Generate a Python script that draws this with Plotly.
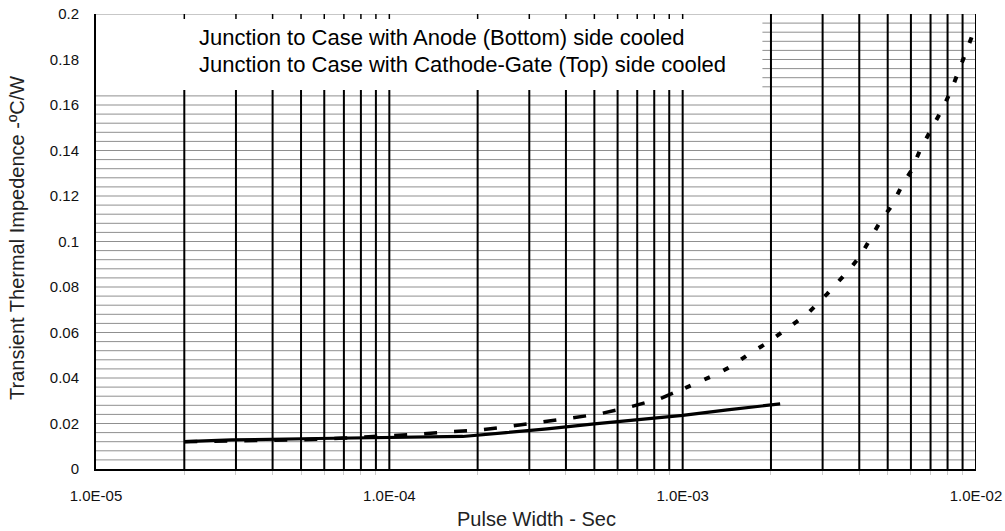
import math
import plotly.graph_objects as go

# ---------------- data ----------------
anode_x = [2.0e-5, 2.9e-5, 5.7e-5, 1.0e-4, 1.34e-4, 1.78e-4, 2.5e-4, 3.45e-4,
           5.0e-4, 8.4e-4, 1.0e-3, 1.42e-3, 2.0e-3, 2.15e-3]
anode_y = [0.0120, 0.0128, 0.0134, 0.0137, 0.0138, 0.0143, 0.0160, 0.0176,
           0.0198, 0.0226, 0.0236, 0.0260, 0.0283, 0.0286]

cathode_x = [2.0e-5, 5.0e-5, 7.0e-5, 1.0e-4, 1.3e-4, 1.6e-4, 2.0e-4, 2.5e-4,
             3.0e-4, 4.0e-4, 5.1e-4, 6.5e-4, 8.4e-4, 1.02e-3, 1.12e-3, 1.32e-3,
             1.49e-3, 1.70e-3, 1.94e-3, 2.29e-3, 2.65e-3, 3.11e-3, 3.44e-3,
             3.72e-3, 4.03e-3, 4.32e-3, 4.71e-3, 5.18e-3, 5.56e-3, 6.01e-3,
             6.44e-3, 7.08e-3, 7.72e-3, 8.29e-3, 8.83e-3, 9.1e-3, 9.78e-3]
cathode_y = [0.0120, 0.0128, 0.0136, 0.0145, 0.0154, 0.0163, 0.0171, 0.0185,
             0.0200, 0.0220, 0.0240, 0.0270, 0.0310, 0.0356, 0.0380, 0.0420,
             0.0457, 0.0510, 0.0554, 0.0620, 0.0680, 0.0770, 0.0830,
             0.0880, 0.0936, 0.1000, 0.1086, 0.1160, 0.1240, 0.1310,
             0.1400, 0.1500, 0.1587, 0.1675, 0.1760, 0.1810, 0.1916]

series_names = ["Junction to Case with Anode (Bottom) side cooled",
                "Junction to Case with Cathode-Gate (Top) side cooled"]

x_tick_vals = [1e-5, 1e-4, 1e-3, 1e-2]
x_tick_text = ["1.0E-05", "1.0E-04", "1.0E-03", "1.0E-02"]
y_tick_vals = [0, 0.02, 0.04, 0.06, 0.08, 0.1, 0.12, 0.14, 0.16, 0.18, 0.2]
y_tick_text = ["0", "0.02", "0.04", "0.06", "0.08", "0.1", "0.12", "0.14", "0.16", "0.18", "0.2"]
y_grid_step = 0.004

decades = [1e-5, 1e-4, 1e-3]
multipliers = [1, 2, 3, 4, 5, 6, 7, 8, 9]

# ---------------- layout constants ----------------
FONT = "Liberation Sans, Arial, sans-serif"
W, H = 1005, 531
ML, MR, MT, MB = 96, 29, 14, 62
PW, PH = W - ML - MR, H - MT - MB
XMIN, XMAX = -5, -2
YMAX = 0.2
BOX_RIGHT = 1.87e-3      # caption box right edge (data)
BOX_BOTTOM = 0.1666      # caption box bottom (data)

grid_x = [m * d for d in decades for m in multipliers] + [1e-2]
grid_x = [v for v in grid_x if v > 1.5e-5]
n_h = int(round(YMAX / y_grid_step))
grid_y = [round(k * y_grid_step, 6) for k in range(1, n_h + 1)]

fig = go.Figure()

# horizontal grid lines (gray), skipped inside the caption box
hx, hy = [], []
for gy in grid_y:
    x0 = 10 ** XMIN if (gy < BOX_BOTTOM or gy >= YMAX) else BOX_RIGHT
    hx += [x0, 10 ** XMAX, None]
    hy += [gy, gy, None]
fig.add_trace(go.Scatter(x=hx, y=hy, mode="lines", line=dict(color="#8f8f8f", width=1),
                         hoverinfo="skip", showlegend=False))

# vertical grid lines (black)
vx, vy = [], []
for gx in grid_x:
    top = YMAX if gx > BOX_RIGHT else BOX_BOTTOM
    vx += [gx, gx, None]
    vy += [0, top, None]
fig.add_trace(go.Scatter(x=vx, y=vy, mode="lines", line=dict(color="black", width=2),
                         hoverinfo="skip", showlegend=False))
# small ticks at the top edge inside the caption box
tx, ty = [], []
for gx in grid_x:
    if gx < BOX_RIGHT:
        tx += [gx, gx, None]
        ty += [YMAX, YMAX - 0.0022, None]
fig.add_trace(go.Scatter(x=tx, y=ty, mode="lines", line=dict(color="black", width=1.5),
                         hoverinfo="skip", showlegend=False))

# data series
fig.add_trace(go.Scatter(x=anode_x, y=anode_y, mode="lines", name=series_names[0],
                         line=dict(color="black", width=3.2), showlegend=False))
split = next(i for i, v in enumerate(cathode_x) if v >= 1.0e-3)
fig.add_trace(go.Scatter(x=cathode_x[:split + 1], y=cathode_y[:split + 1], mode="lines",
                         name=series_names[1],
                         line=dict(color="black", width=3.5, dash="13px,17px"), showlegend=False))
fig.add_trace(go.Scatter(x=cathode_x[split:], y=cathode_y[split:], mode="lines",
                         name=series_names[1],
                         line=dict(color="black", width=4, dash="6px,15px"), showlegend=False))

annotations = []
for i, (name, ypx) in enumerate(zip(series_names, [37, 64])):
    annotations.append(dict(text=name, xref="paper", yref="paper",
                            x=(197 - ML) / PW, y=(H - MB - ypx) / PH,
                            xanchor="left", yanchor="middle", showarrow=False,
                            font=dict(family=FONT, size=22, color="black")))
annotations.append(dict(text="Pulse Width - Sec", xref="paper", yref="paper",
                        x=0.5, y=-(519 - (H - MB)) / PH, xanchor="center", yanchor="middle",
                        showarrow=False, font=dict(family=FONT, size=20, color="#222")))
annotations.append(dict(text="Transient Thermal Impedence -ºC/W", xref="paper", yref="paper",
                        x=(17 - ML) / PW, y=(H - MB - 238) / PH, textangle=-90,
                        xanchor="center", yanchor="middle",
                        showarrow=False, font=dict(family=FONT, size=20, color="#222")))

minor_x = [v for v in grid_x if v not in x_tick_vals]

fig.update_layout(
    width=W, height=H,
    margin=dict(l=ML, r=MR, t=MT, b=MB, autoexpand=False),
    paper_bgcolor="white", plot_bgcolor="white",
    font=dict(family=FONT, color="black"),
    annotations=annotations,
    showlegend=False,
    xaxis=dict(type="log", range=[XMIN, XMAX], tickvals=x_tick_vals, ticktext=x_tick_text,
               automargin=False,
               showgrid=False, zeroline=False, showline=True, linecolor="black", linewidth=2,
               ticks="", ticklabelstandoff=12, tickfont=dict(family=FONT, size=15, color="#111"),
               minor=dict(tickvals=minor_x, ticks="outside", ticklen=4, tickcolor="#cccccc",
                          showgrid=False)),
    yaxis=dict(range=[0, YMAX], tickvals=y_tick_vals, ticktext=y_tick_text,
               automargin=False,
               showgrid=False, zeroline=False, showline=True, linecolor="black", linewidth=2,
               ticks="", ticklabelstandoff=12, tickfont=dict(family=FONT, size=15, color="#111")),
)

fig.write_html("out.html", config={"displayModeBar": False},
               post_script="document.body.style.margin='0px';"
                           "document.documentElement.style.overflow='hidden';")
